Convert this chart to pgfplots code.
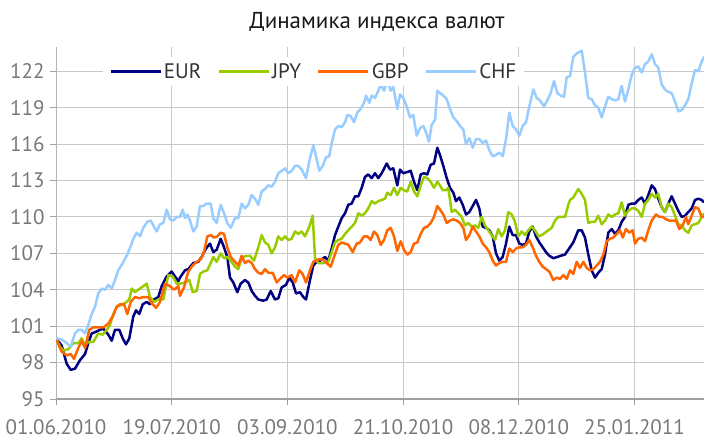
\documentclass[border=0pt]{standalone}
\usepackage{fontspec}
\setmainfont{PT Sans}
\usepackage{pgfplots}
\pgfplotsset{compat=1.18}
\definecolor{cEUR}{RGB}{0,0,128}
\definecolor{cJPY}{RGB}{153,204,0}
\definecolor{cGBP}{RGB}{255,102,0}
\definecolor{cCHF}{RGB}{153,204,255}
\definecolor{cgrid}{RGB}{200,200,200}
\definecolor{caxis}{RGB}{160,160,160}
\definecolor{ctick}{RGB}{120,120,120}
\newcommand{\tickfont}{\fontsize{21}{25}\selectfont}
\newcommand{\titlefont}{\fontsize{23}{27}\selectfont}
\begin{document}
\begin{tikzpicture}
\begin{axis}[
  at={(56pt,40pt)}, anchor=south west,
  scale only axis, width=648pt, height=352pt,
  xmin=0, xmax=648, ymin=95, ymax=124,
  axis x line*=bottom, axis y line*=left,
  x axis line style={draw=caxis, line width=1.6pt},
  y axis line style={draw=cgrid!90!black, line width=1pt},
  xtick={0,115.7,231.4,347.1,462.8,578.5},
  xticklabels={01.06.2010,19.07.2010,03.09.2010,21.10.2010,08.12.2010,25.01.2011},
  ytick={95,98,...,122},
  grid=major,
  major grid style={draw=cgrid, line width=0.9pt},
  tick align=outside,
  major tick length=6pt,
  tick style={draw=caxis, line width=0.9pt},
  tick label style={font=\tickfont, text=ctick},
  /pgf/number format/assume math mode=true,
  xticklabel style={inner ysep=0pt, text depth=0pt, yshift=-14pt},
  yticklabel style={xshift=-2pt},
  legend columns=4,
  legend style={at={(0.0725,0.93)}, anchor=west, draw=none, fill=white,
    font=\tickfont, text=black!80, inner xsep=6pt, inner ysep=4pt,
    /tikz/every even column/.append style={column sep=14pt}},
  legend image code/.code={\draw[#1,line width=2.7pt] (0pt,0pt) -- (50pt,0pt);},
  every axis plot/.append style={line width=2.5pt, line join=round},
]
\addplot[cEUR] coordinates {(0,100.0)(5.7,99.4)(10.7,97.9)(14.7,97.4)(19,97.5)(24,98.2)(29,98.7)(32.3,99.6)(35.7,100.4)(39,100.5)(44,100.7)(47.3,100.8)(52.3,100.3)(55.7,99.8)(59,100.7)(63.3,100.7)(66.7,100.0)(70,99.5)(73.3,100.0)(77.3,101.8)(80,102.3)(83.3,102.0)(86.7,102.8)(90.7,103.0)(94,102.8)(98,103.2)(102.3,103.4)(105.7,104.3)(110.7,105.1)(115.7,105.5)(119,105.1)(122.3,104.7)
(124,105.0)(129,105.6)(132.3,105.7)(137.3,106.2)(142.3,106.3)(145.7,106.7)(150,107.4)(154,107.8)(157.3,107.1)(160.7,107.3)(164.7,108.2)(168,107.5)(171.3,106.7)(174,105.0)(177.3,104.6)(181.3,103.8)(184.7,104.5)(189,104.8)(192.3,104.6)(195.7,103.9)(199,103.5)(202.3,103.2)(207.3,103.1)(210.7,103.2)(214.7,103.9)(219,103.2)(222.3,103.3)(225.7,104.2)(230,104.4)(233.3,105.0)(236.7,104.6)(240,103.7)(244,103.8)(247.3,103.4)(250,103.2)
(254,104.8)(257.3,106.0)(260.7,106.3)(264,106.4)(269,106.7)(272.3,106.4)(275.7,107.4)(279,108.5)(282.3,109.2)(285.7,109.9)(289,110.3)(292.3,111.0)(295.7,111.1)(299,111.7)(302.3,111.7)(305.7,112.4)(309,113.3)(312.3,113.5)(315.7,113.2)(319,113.6)(322.3,113.2)(325.7,113.6)(330.7,114.4)(334,113.9)(337.3,114.0)(341.3,112.6)(344,113.9)(347.3,113.6)(351.3,113.7)(354.7,113.8)(358,112.9)(361.3,112.2)(364.7,113.5)(368,113.6)(371.3,113.5)(374.7,114.3)(378,114.4)(381.3,115.7)
(384,115.1)(387.3,114.2)(390.7,113.2)(394,112.4)(397.3,112.0)(400,111.3)(403.3,111.6)(406.7,111.0)(410,110.2)(413.3,110.4)(416.7,110.9)(420,111.4)(423.3,110.7)(426.7,109.2)(430,109.1)(433.3,108.9)(436.7,108.4)(440,107.0)(443.3,106.4)(446.7,106.7)(450,107.8)(453.3,109.2)(456.7,108.5)(460,108.5)(463.3,107.8)(466.7,107.7)(470,107.8)(473.3,108.8)(476.7,109.2)(480,108.4)(483.3,107.9)(486.7,107.5)(490,107.1)(493.3,106.8)(497.3,106.6)(501.3,106.7)(504.7,106.8)(509,106.9)(512.3,107.3)
(517.3,107.9)(522.3,108.9)(525.7,108.9)(529,108.3)(532.3,106.9)(535.7,105.6)(539,105.0)(542.3,105.4)(545.7,105.7)(549,106.9)(552.3,108.7)(555.7,109.0)(559,108.6)(562.3,108.9)(565.7,109.6)(569,110.0)(572.3,111.0)(575.7,111.1)(579,111.1)(582.3,111.4)(585.7,111.6)(589,111.1)(592.3,111.8)(595.7,112.6)(599,112.3)(602.3,111.5)(605.7,110.8)(609,110.4)(612.3,111.1)(615.7,111.7)(619,111.1)(622.3,110.5)(625.7,110.0)(629,110.1)(632.3,110.4)(635.7,110.7)(639,111.4)(642.3,111.5)(645.7,111.4)(648,111.2)};
\addlegendentry{EUR}
\addplot[cJPY] coordinates {(0,100.0)(4,99.3)(7.3,99.0)(12.3,99.1)(17.3,99.6)(22.3,99.6)(25.7,100.0)(29,99.4)(32.3,99.7)(37.3,99.7)(42.3,100.4)(46.7,100.3)(50.7,100.7)(54,101.1)(57.3,102.0)(60.7,102.6)(64,102.7)(69,102.9)(73.3,103.2)(75.7,104.1)(79,103.8)(82.3,104.0)(87.3,104.3)(90.7,104.5)(94,103.4)(98,103.0)(102.3,103.2)(107.3,103.2)(112.3,105.2)(116.7,105.1)(120.7,104.5)
(124,104.5)(129,104.6)(133.3,104.8)(136.7,103.8)(140.7,103.9)(144,105.3)(147.3,105.5)(151.3,105.6)(154.7,106.2)(157.3,106.7)(160.7,106.3)(164.7,107.0)(168,106.6)(171.3,106.7)(174.7,106.4)(179,105.9)(182.3,105.7)(185.7,106.6)(190,106.8)(194,106.8)(198,106.4)(202.3,107.5)(205.7,108.5)(209,107.9)(212.3,107.7)(215.7,107.0)(219,107.5)(222.3,108.4)(225.7,108.1)(229,108.4)(232.3,108.1)(235.7,108.2)(239,108.8)(242.3,108.6)(245.7,108.8)(249,108.4)(253.3,109.2)(256.7,110.1)(259,106.6)
(262.3,106.2)(267.3,106.2)(272.3,106.3)(275.7,107.1)(279,107.9)(282.3,108.1)(285.7,108.2)(289,108.6)(292.3,108.9)(295.7,109.2)(299,109.5)(302.3,110.3)(305.7,110.1)(309,110.3)(312.3,110.7)(315.7,111.3)(319,111.1)(322.3,111.3)(325.7,111.4)(329,111.5)(331.3,112.0)(334.7,111.8)(338,112.4)(341.3,111.8)(344.7,112.4)(348,112.2)(351.3,112.1)(354.7,112.9)(358,112.1)(361.3,111.7)(364.7,112.6)(368,113.3)(371.3,113.2)(374.7,112.9)(378,112.4)(381.3,112.9)
(384,112.6)(386.7,112.2)(390,112.2)(392.3,112.4)(395.7,110.4)(399,110.6)(402.3,110.3)(405.7,110.0)(409,109.3)(412.3,109.5)(415.7,109.2)(419,109.3)(422.3,109.1)(425.7,110.0)(429,109.3)(432.3,108.9)(435.7,108.5)(439,108.1)(442.3,109.0)(445.7,108.4)(449,108.9)(452.3,110.4)(455.7,110.2)(459,109.6)(462.3,108.4)(465.7,108.8)(469,108.5)(472.3,108.9)(475.7,109.2)(479,108.9)(482.3,108.4)(485.7,108.5)(489,108.7)(492.3,108.9)(495.7,109.1)(499,109.7)(502.3,110.0)(505.7,110.0)(509,110.0)(512.3,111.0)
(514,111.4)(517.3,111.6)(522.3,112.3)(525.7,111.9)(529,111.4)(532.3,109.5)(535.7,109.6)(539,109.6)(542.3,110.1)(545.7,109.4)(549,109.7)(552.3,110.2)(555.7,110.0)(559,110.2)(562.3,110.3)(565.7,111.2)(569,110.1)(572.3,110.5)(575.7,110.7)(579,110.7)(582.3,110.5)(585.7,110.0)(589,111.1)(592.3,111.4)(595.7,111.9)(599,111.6)(602.3,111.9)(605.7,110.8)(609,110.4)(612.3,111.1)(615.7,110.8)(619,110.1)(622.3,109.4)(625.7,109.3)(629,108.9)(632.3,108.7)(635.7,109.3)(639,109.4)(642.3,109.5)(645.7,110.0)(648,110.3)};
\addlegendentry{JPY}
\addplot[cGBP] coordinates {(0,100.0)(5.7,98.9)(10.7,98.6)(14.7,98.7)(18,98.3)(22.3,99.2)(25.7,99.8)(29,99.2)(33.3,100.7)(37.3,100.9)(42.3,100.9)(47.3,100.9)(52.3,101.2)(57.3,101.9)(60.7,102.6)(64,102.8)(68,102.8)(71.3,102.0)(74.7,103.0)(79,103.4)(83.3,103.3)(87.3,103.4)(92.3,103.4)(95.7,102.9)(100,102.5)(104,103.0)(109,104.5)(114,104.3)(118,104.0)(122.3,104.3)
(124,103.5)(128,104.2)(132.3,105.5)(136.7,106.0)(140.7,106.3)(144.7,106.5)(148,107.1)(151.3,108.4)(154.7,108.5)(158,108.3)(161.3,108.4)(164.7,108.7)(168,108.6)(171.3,107.5)(174.7,106.7)(179,106.3)(182.3,106.0)(185.7,106.8)(189,106.2)(192.3,106.4)(195.7,106.2)(199,105.7)(202.3,105.4)(205.7,105.3)(209,105.7)(212.3,105.4)(216.7,105.4)(220.7,104.6)(224,104.9)(228,105.2)(231.3,105.0)(235.7,105.2)(239,104.6)(243.3,105.6)(246.7,105.3)(250,104.6)
(254,105.6)(257.3,106.3)(262.3,106.5)(266.7,106.5)(270.7,106.2)(274.7,105.9)(278,106.7)(282.3,107.7)(285.7,107.9)(289,107.8)(292.3,107.7)(296.7,107.1)(300.7,107.8)(304,107.9)(308,108.4)(311.3,108.4)(314.7,108.1)(318,108.8)(321.3,108.5)(324.7,107.7)(328,108.1)(331.3,108.9)(334.7,109.1)(338,108.4)(341.3,107.2)(344.7,108.0)(348,107.3)(351.3,106.9)(354.7,107.1)(358,107.8)(361.3,107.9)(364.7,108.6)(368,109.1)(371.3,109.2)(374.7,109.5)(378,110.0)(381.3,110.9)
(384,110.6)(387.3,110.2)(390.7,109.5)(394,109.7)(397.3,109.8)(400.7,109.7)(404,109.5)(407.3,109.1)(410,108.1)(413.3,108.5)(416.7,109.2)(420,108.8)(423.3,108.4)(426.7,107.8)(430,107.5)(433.3,107.1)(436.7,106.4)(440,106.0)(443.3,106.2)(446.7,106.3)(450,106.3)(453.3,107.4)(456.7,107.1)(460,107.4)(463.3,107.5)(466.7,107.5)(470,107.7)(473.3,108.1)(476.7,107.5)(480,106.8)(483.3,106.3)(486.7,105.9)(490,105.7)(493.3,105.5)(497.3,104.8)(500.7,105.0)(504,104.9)(507.3,105.2)(510.7,104.9)
(514,105.6)(517.3,105.3)(520.7,106.3)(524,105.8)(527.3,106.3)(530.7,105.8)(534,105.6)(537.3,105.7)(540.7,106.0)(544,106.3)(547.3,106.9)(550.7,108.0)(554,108.2)(557.3,108.3)(560.7,108.6)(564,108.9)(566.7,108.3)(570,109.0)(573.3,108.7)(576.7,108.9)(579,107.8)(582.3,108.2)(585.7,108.3)(589,108.0)(592.3,108.9)(595.7,109.7)(600,110.2)(603.3,110.0)(606.7,110.0)(610,109.8)(613.3,109.7)(616.7,109.7)(620,109.7)(623.3,109.0)(626.7,109.3)(630,110.0)(632.3,109.4)(635.7,110.1)(639,110.8)(642.3,110.7)(645.7,110.0)(648,110.0)};
\addlegendentry{GBP}
\addplot[cCHF] coordinates {(0,100.0)(5.7,99.9)(10.7,99.6)(14.7,99.3)(19,100.4)(22.3,100.7)(25.7,100.7)(29,100.4)(32.3,101.1)(35.7,102.0)(39,102.6)(42.3,103.7)(45.7,104.1)(49,104.0)(52.3,104.4)(55.7,104.1)(59,104.8)(62.3,105.6)(66.7,106.2)(71.3,106.9)(74.7,107.6)(77.3,108.2)(80.7,108.7)(84,108.4)(87.3,109.1)(91.3,109.6)(94.7,109.7)(98,109.2)(100.7,108.8)(104,109.4)(107.3,109.5)(110.7,110.6)(114,109.8)(117.3,109.7)(120.7,110.0)
(124,110.0)(126.7,110.6)(129,109.9)(131.3,110.2)(134,109.7)(137.3,108.8)(140.7,109.2)(144,110.9)(147.3,110.9)(150.7,111.1)(154.7,111.1)(157.3,109.9)(160.7,109.5)(164.7,111.0)(168,110.3)(171.3,109.5)(174.7,109.1)(179,109.9)(182.3,109.9)(185.7,111.1)(189,110.7)(192.3,111.0)(195.7,111.8)(199,111.5)(202.3,111.0)(205.7,112.1)(209,112.3)(212.3,112.6)(215.7,112.5)(219,112.9)(222.3,113.6)(225.7,113.8)(229,114.0)(232.3,113.6)(235.7,113.8)(239,114.2)(242.3,114.2)(245.7,113.9)(250,113.2)(253.3,114.6)
(257.3,115.9)(260,115.0)(263.3,113.8)(266.7,114.2)(270,114.9)(273.3,115.0)(275.7,116.1)(279,117.2)(282.3,117.5)(285.7,117.4)(289,117.8)(291.3,118.4)(294.7,118.3)(298,117.8)(301.3,118.6)(304.7,118.9)(308,119.4)(310,120.0)(313.3,119.4)(315.7,120.0)(319,119.8)(322.3,120.4)(324.7,120.9)(328,120.4)(331.3,121.2)(334.7,120.4)(337.3,120.7)(341.3,118.9)(344,120.1)(347.3,119.8)(350.7,119.1)(354,118.2)(357.3,118.4)(360.7,116.7)(364,117.3)(367.3,117.5)(370.7,116.8)(373,116.2)(375.7,117.6)(379,118.0)(381.3,120.4)
(384,120.2)(387.3,120.0)(390.7,119.7)(394,118.9)(397.3,118.2)(400.7,117.9)(404,117.5)(407.3,117.2)(410,116.0)(413.3,116.5)(416.7,115.7)(420,116.4)(423.3,116.4)(426.7,116.1)(430,116.3)(433.3,115.5)(436.7,115.0)(440,115.1)(443.3,115.3)(446.7,115.0)(450,116.4)(453.3,118.6)(456.7,117.5)(460,117.2)(463.3,116.7)(466.7,117.5)(470,117.8)(473.3,119.1)(477.3,120.5)(480.7,119.8)(484,119.6)(488,119.1)(491.3,119.6)(494.7,120.2)(498,121.2)(501.3,120.2)(504.7,120.0)(508,119.9)(510.7,121.5)(514,121.6)
(517.3,123.2)(521.3,123.5)(525.7,123.7)(529,121.9)(532.3,119.8)(535.7,119.7)(539,119.2)(542.3,119.0)(545.7,118.2)(549,119.1)(552.3,119.9)(555.7,119.7)(559,119.6)(562.3,119.7)(565.7,120.8)(569,119.5)(572.3,120.5)(575.7,121.7)(579,122.3)(582.3,122.4)(585.7,121.9)(589,122.6)(592.3,122.8)(595.7,123.4)(599,122.6)(602.3,122.3)(605.7,120.9)(609,120.5)(612.3,120.3)(615.7,120.2)(619,119.5)(622.3,118.7)(625.7,118.8)(629,119.2)(632.3,119.7)(635.7,121.0)(639,122.1)(642.3,122.0)(645.7,122.8)(648,123.2)};
\addlegendentry{CHF}
\end{axis}
\node[font=\titlefont, text=black!90, anchor=base] at (377pt,410pt) {Динамика индекса валют};
\pgfresetboundingbox
\path[use as bounding box] (0,0) rectangle (704pt,439pt);
\end{tikzpicture}
\end{document}
